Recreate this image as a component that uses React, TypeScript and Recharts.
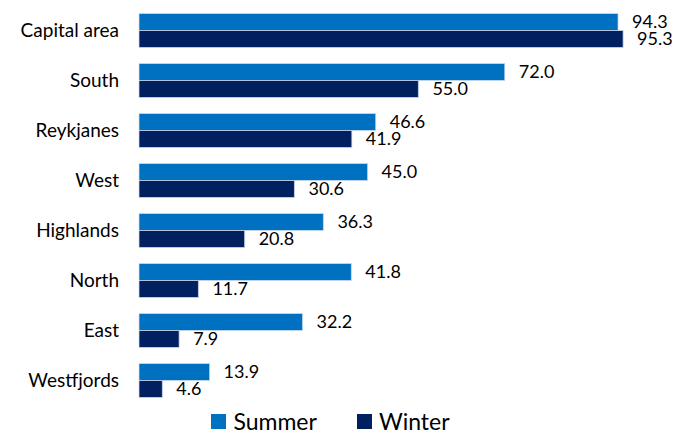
import React from 'react';
import { BarChart, Bar, XAxis, YAxis, Legend, LabelList } from 'recharts';

const regions = ['Capital area', 'South', 'Reykjanes', 'West', 'Highlands', 'North', 'East', 'Westfjords'];
const summer = [94.3, 72.0, 46.6, 45.0, 36.3, 41.8, 32.2, 13.9];
const winter = [95.3, 55.0, 41.9, 30.6, 20.8, 11.7, 7.9, 4.6];

const SUMMER_COLOR = '#0070C0';
const WINTER_COLOR = '#002060';
const FONT = 'Lato, "Open Sans", sans-serif';

const data = regions.map((region, i) => ({ region, summer: summer[i], winter: winter[i] }));

const fmt = (v: any) => Number(v).toFixed(1);

const LegendContent = () => (
  <div
    style={{
      display: 'flex',
      justifyContent: 'center',
      alignItems: 'center',
      gap: 40,
      fontFamily: FONT,
      fontSize: 23,
      lineHeight: '24px',
      color: '#000',
      paddingLeft: 14,
      paddingTop: 4,
    }}
  >
    {[
      { name: 'Summer', color: SUMMER_COLOR },
      { name: 'Winter', color: WINTER_COLOR },
    ].map((item) => (
      <div key={item.name} style={{ display: 'flex', alignItems: 'center' }}>
        <span style={{ width: 15, height: 15, background: item.color, display: 'inline-block', marginRight: 7 }} />
        <span>{item.name}</span>
      </div>
    ))}
  </div>
);

export default function App() {
  return (
    <div style={{ position: 'absolute', left: 0, top: 0, background: '#fff' }}>
      <BarChart
        width={677}
        height={436}
        data={data}
        layout="vertical"
        margin={{ top: 5, right: 30, bottom: 0, left: 0 }}
        barCategoryGap="17%"
        barGap={0}
      >
        <XAxis type="number" domain={[0, 100]} hide />
        <YAxis
          type="category"
          dataKey="region"
          width={139}
          axisLine={false}
          tickLine={false}
          tickMargin={14}
          tick={{ fill: '#000', fontSize: 19, fontFamily: FONT }}
        />
        <Legend verticalAlign="bottom" height={31} content={<LegendContent />} />
        <Bar dataKey="summer" name="Summer" fill={SUMMER_COLOR} stroke="#cfdcee" strokeWidth={0.75} isAnimationActive={false}>
          <LabelList dataKey="summer" position="right" offset={14} formatter={fmt} fill="#000" fontSize={18} fontFamily={FONT} />
        </Bar>
        <Bar dataKey="winter" name="Winter" fill={WINTER_COLOR} stroke="#cfdcee" strokeWidth={0.75} isAnimationActive={false}>
          <LabelList dataKey="winter" position="right" offset={14} formatter={fmt} fill="#000" fontSize={18} fontFamily={FONT} />
        </Bar>
      </BarChart>
    </div>
  );
}
